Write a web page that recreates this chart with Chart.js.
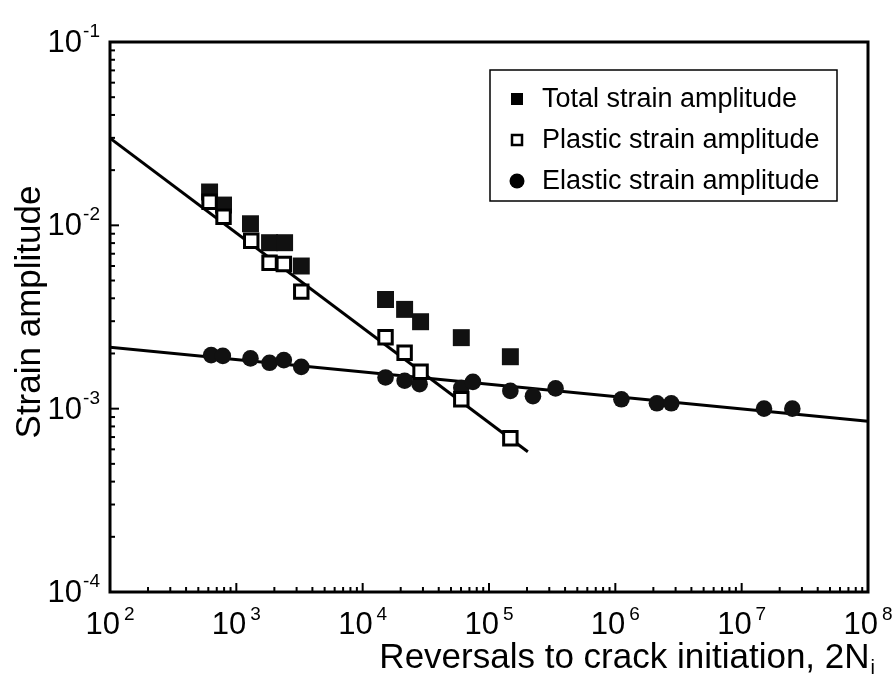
<!DOCTYPE html>
<html><head><meta charset="utf-8">
<script src="https://cdn.jsdelivr.net/npm/chart.js@4.4.0/dist/chart.umd.min.js"></script>
<style>html,body{margin:0;padding:0;background:#fff;} #wrap{width:895px;height:678px;position:relative;}</style>
</head><body><div id="wrap"><canvas id="c" width="895" height="678"></canvas></div>
<script>
// ---- data ----
const totalX = [614, 792, 1294, 1832, 2410, 3266, 15170, 21480, 28730, 60360, 147600];
const totalY = [0.0152, 0.0129, 0.0102, 0.00804, 0.00804, 0.0060, 0.00394, 0.00348, 0.00298, 0.00244, 0.00192];
const plasticX = [614, 792, 1312, 1832, 2377, 3266, 15170, 21480, 28730, 60360, 147600];
const plasticY = [0.01346, 0.01114, 0.00824, 0.00625, 0.00615, 0.00435, 0.00245, 0.00202, 0.00159, 0.001125, 0.000689];
const elasticX = [632, 782, 1294, 1832, 2377, 3266, 15170, 21480, 28230, 60360, 74600, 147600, 222800, 336500, 1117000, 2133000, 2773000, 15030000, 25180000];
const elasticY = [0.00196, 0.00194, 0.00188, 0.00178, 0.00184, 0.00169, 0.00148, 0.00142, 0.00136, 0.00130, 0.00140, 0.00125, 0.00117, 0.00129, 0.001125, 0.00107, 0.00107, 0.00100, 0.00100];
const plasticFitX = [100, 203000];
const plasticFitY = [0.0299, 0.000582];
const elasticFitX = [100, 1e8];
const elasticFitY = [0.00216, 0.000855];
const xTickExponents = [2, 3, 4, 5, 6, 7, 8];
const yTickExponents = [-1, -2, -3, -4];
const legendLabels = ['Total strain amplitude', 'Plastic strain amplitude', 'Elastic strain amplitude'];
const xTitle = 'Reversals to crack initiation, 2N';
const xTitleSub = 'i';
const yTitle = 'Strain amplitude';

const pts = (xs, ys) => xs.map((x, i) => ({x: x, y: ys[i]}));
const FONT = '"Liberation Sans", Arial, Helvetica, sans-serif';

const framePlugin = {
  id: 'frame',
  beforeDatasetsDraw(chart) {
    const {ctx, chartArea: a, scales} = chart;
    ctx.save();
    ctx.strokeStyle = '#000';
    ctx.lineWidth = 2;
    for (let e = 2; e <= 8; e++) {
      for (let m = 1; m <= 9; m++) {
        const v = m * Math.pow(10, e);
        if (v > 1e8 + 1) continue;
        const px = scales.x.getPixelForValue(v);
        const len = m === 1 ? 9 : 5;
        ctx.beginPath(); ctx.moveTo(px, a.bottom); ctx.lineTo(px, a.bottom - len); ctx.stroke();
      }
    }
    for (let e = -4; e <= -1; e++) {
      for (let m = 1; m <= 9; m++) {
        const v = m * Math.pow(10, e);
        if (v > 0.1 + 1e-9) continue;
        const py = scales.y.getPixelForValue(v);
        const len = m === 1 ? 9 : 5;
        ctx.beginPath(); ctx.moveTo(a.left, py); ctx.lineTo(a.left + len, py); ctx.stroke();
      }
    }
    ctx.lineWidth = 3;
    ctx.strokeRect(a.left, a.top, a.right - a.left, a.bottom - a.top);
    ctx.restore();
  },
  afterDraw(chart) {
    const {ctx, chartArea: a, scales} = chart;
    ctx.save();
    ctx.fillStyle = '#000';
    const BIG = '31px ' + FONT, SUP = '19px ' + FONT;
    // x tick labels 10^n
    xTickExponents.forEach(e => {
      const px = scales.x.getPixelForValue(Math.pow(10, e));
      ctx.font = BIG;
      const wb = ctx.measureText('10').width;
      ctx.font = SUP;
      const we = ctx.measureText(String(e)).width;
      const left = px - (wb + 4 + we) / 2;
      ctx.textBaseline = 'alphabetic'; ctx.textAlign = 'left';
      ctx.font = BIG;
      ctx.fillText('10', left, a.bottom + 42);
      ctx.font = SUP;
      ctx.fillText(String(e), left + wb + 4, a.bottom + 28);
    });
    // y tick labels 10^-n
    yTickExponents.forEach(e => {
      const py = scales.y.getPixelForValue(Math.pow(10, e));
      ctx.font = SUP;
      const we = ctx.measureText(String(e)).width;
      ctx.font = BIG;
      const wb = ctx.measureText('10').width;
      const right = a.left - 10;
      ctx.textAlign = 'left'; ctx.textBaseline = 'alphabetic';
      ctx.fillText('10', right - we - 1 - wb, py + 10);
      ctx.font = SUP;
      ctx.fillText(String(e), right - we, py - 5);
    });
    // axis titles
    ctx.font = '35px ' + FONT;
    ctx.textAlign = 'left'; ctx.textBaseline = 'alphabetic';
    const wt = ctx.measureText(xTitle).width;
    ctx.font = '20px ' + FONT;
    const ws = ctx.measureText(xTitleSub).width;
    const xr = a.right + 7;
    ctx.font = '35px ' + FONT;
    ctx.fillText(xTitle, xr - ws - 1 - wt, a.bottom + 76);
    ctx.font = '20px ' + FONT;
    ctx.fillText(xTitleSub, xr - ws, a.bottom + 82);
    ctx.save();
    ctx.translate(40, (a.top + a.bottom) / 2 - 5);
    ctx.rotate(-Math.PI / 2);
    ctx.font = '35px ' + FONT;
    ctx.textAlign = 'center';
    ctx.fillText(yTitle, 0, 0);
    ctx.restore();
    // legend
    const bx = 490, by = 70, bw = 347, bh = 131;
    ctx.fillStyle = '#fff';
    ctx.fillRect(bx, by, bw, bh);
    ctx.strokeStyle = '#000'; ctx.lineWidth = 1.5;
    ctx.strokeRect(bx, by, bw, bh);
    const rows = [99, 140, 181];
    ctx.font = '27px ' + FONT;
    ctx.textBaseline = 'middle'; ctx.textAlign = 'left';
    rows.forEach((ry, i) => {
      const mx = 517;
      ctx.fillStyle = '#000';
      if (i === 0) { ctx.fillRect(mx - 6, ry - 6, 12, 12); }
      else if (i === 1) { ctx.lineWidth = 2.5; ctx.strokeRect(mx - 5, ry - 5, 10, 10); }
      else { ctx.beginPath(); ctx.arc(mx, ry, 7.5, 0, Math.PI * 2); ctx.fill(); }
      ctx.fillText(legendLabels[i], 542, ry + 1);
    });
    ctx.restore();
  }
};

new Chart(document.getElementById('c'), {
  type: 'scatter',
  data: {
    datasets: [
      { label: 'Plastic fit', data: pts(plasticFitX, plasticFitY), showLine: true, pointRadius: 0, borderColor: '#000', borderWidth: 3, order: 5 },
      { label: 'Elastic fit', data: pts(elasticFitX, elasticFitY), showLine: true, pointRadius: 0, borderColor: '#000', borderWidth: 3, order: 4 },
      { label: legendLabels[0], data: pts(totalX, totalY), pointStyle: 'rect', pointRadius: 12, backgroundColor: '#111', borderColor: '#111', borderWidth: 0, order: 3 },
      { label: legendLabels[2], data: pts(elasticX, elasticY), pointStyle: 'circle', pointRadius: 8.3, backgroundColor: '#111', borderColor: '#111', borderWidth: 0, order: 2 },
      { label: legendLabels[1], data: pts(plasticX, plasticY), pointStyle: 'rect', pointRadius: 9.5, backgroundColor: '#fff', borderColor: '#000', borderWidth: 3, order: 1 }
    ]
  },
  options: {
    responsive: false,
    animation: false,
    events: [],
    layout: { padding: { top: 42, right: 27, left: 0, bottom: 0 } },
    plugins: { legend: { display: false }, tooltip: { enabled: false } },
    scales: {
      x: { type: 'logarithmic', min: 100, max: 1e8, grid: { display: false }, border: { display: false }, ticks: { display: false },
           afterFit(s) { s.height = 86; } },
      y: { type: 'logarithmic', min: 1e-4, max: 1e-1, grid: { display: false }, border: { display: false }, ticks: { display: false },
           afterFit(s) { s.width = 110; } }
    }
  },
  plugins: [framePlugin]
});
</script></body></html>
